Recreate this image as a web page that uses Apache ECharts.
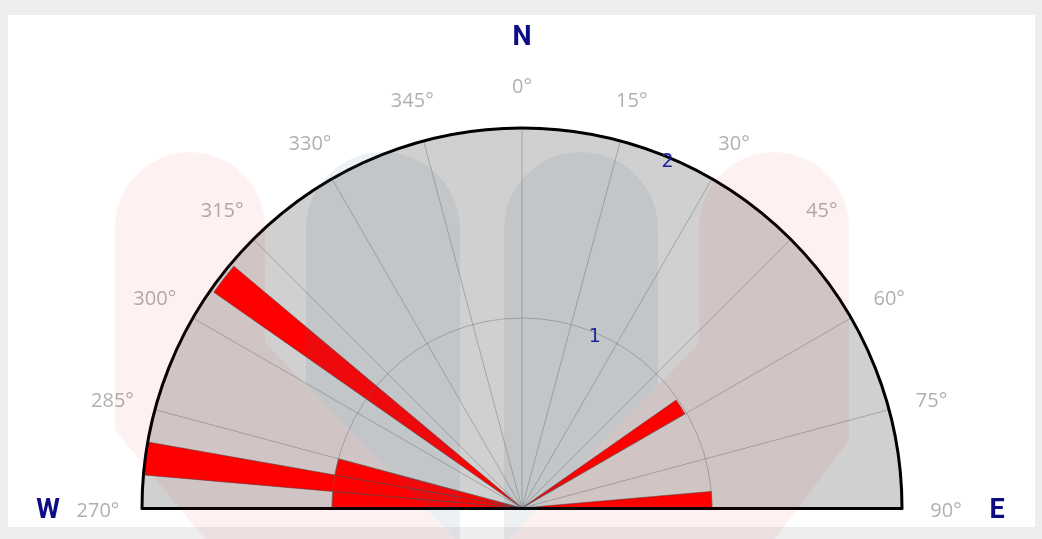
<!DOCTYPE html>
<html>
<head>
<meta charset="utf-8">
<style>
html,body{margin:0;padding:0;background:#eeeeee;width:1042px;height:539px;overflow:hidden;}
#panel{position:absolute;left:8px;top:15px;width:1027px;height:512px;background:#ffffff;}
#chart{position:absolute;left:0;top:0;width:1042px;height:539px;}
</style>
<script src="https://cdn.jsdelivr.net/npm/echarts@6/dist/echarts.min.js"></script>
</head>
<body>
<div id="panel"></div>
<div id="chart"></div>
<script>
// ---- data ----
// bar centres (compass degrees) and their radial values
const binCompass = [272.5, 277.5, 282.5, 307.5, 57.5, 87.5];
const binValues  = [1.0,   2.0,   1.0,   1.98,  0.99, 1.0];
// angle tick range (-90 = 270°, 0 = 0°, 90 = 90°)
const angleMin = -90, angleMax = 90, angleStep = 15;
const radiusMax = 2, radiusStep = 1;
const radiusLabels = [1, 2];
const compassText = ['N', 'W', 'E'];

// convert compass to axis value (-90..90)
const binAngles = binCompass.map(a => a > 180 ? a - 360 : a);

const CENTER = [522, 508], R = 380;

function pill(cx, cy, r, tail) {
  const pts = [];
  for (let i = 0; i <= 24; i++) {
    const t = Math.PI - Math.PI * i / 24;
    pts.push([cx + r * Math.cos(t), cy - r * Math.sin(t)]);
  }
  return pts.concat(tail);
}

const chart = echarts.init(document.getElementById('chart'), null, {renderer: 'canvas'});
const hiddenAngle = (idx, start) => ({polarIndex: idx, type: 'value', startAngle: start, show: false});
const baseRadius = (idx, z) => ({
  polarIndex: idx, type: 'value', min: 0, max: radiusMax, interval: radiusStep, z: z,
  axisLine: {show: false}, axisTick: {show: false}, axisLabel: {show: false},
  splitLine: {show: false}, splitArea: {show: false}
});

const option = {
  animation: false,
  polar: [0, 1, 2, 3].map(() => ({center: CENTER, radius: [0, R]})),
  angleAxis: [
    {
      polarIndex: 0, type: 'value', min: angleMin, max: angleMax, interval: angleStep,
      startAngle: 180, endAngle: 0, clockwise: true, z: 0,
      axisLine: {show: false}, axisTick: {show: false}, axisLabel: {show: false},
      splitLine: {show: false}, splitArea: {show: true, areaStyle: {color: ['#d0d0d0']}}
    },
    {
      polarIndex: 1, type: 'value', min: angleMin, max: angleMax, interval: angleStep,
      startAngle: 180, endAngle: 0, clockwise: true, z: 5,
      axisLine: {show: true, lineStyle: {color: '#000000', width: 3}},
      axisTick: {show: false},
      axisLabel: {
        show: true, margin: 44, padding: [-7, -22, -13, -22], lineHeight: 20,
        color: '#b0b0b0', fontFamily: 'Open Sans', fontSize: 20,
        formatter: v => '{a|' + ((v + 360) % 360) + '°}',
        rich: {a: {width: 44, align: 'center', lineHeight: 20, color: '#b0b0b0', fontFamily: 'Open Sans', fontSize: 20}}
      },
      splitLine: {show: true, lineStyle: {color: 'rgba(110,110,110,0.45)', width: 1}},
      splitArea: {show: false}
    },
    hiddenAngle(2, 0),
    hiddenAngle(3, 67.5)
  ],
  radiusAxis: [
    baseRadius(0, 0),
    Object.assign(baseRadius(1, 5), {
      axisLine: {show: true, lineStyle: {color: '#000000', width: 3}},
      splitLine: {show: true, lineStyle: {color: 'rgba(110,110,110,0.45)', width: 1}}
    }),
    Object.assign(baseRadius(2, 5), {
      axisLine: {show: true, lineStyle: {color: '#000000', width: 3}}
    }),
    Object.assign(baseRadius(3, 6), {
      axisLabel: {
        show: true, margin: 0, align: 'center', verticalAlign: 'top', lineHeight: 10,
        color: '#1c1c9c', fontFamily: 'DejaVu Sans', fontSize: 19,
        formatter: v => radiusLabels.indexOf(v) >= 0 ? String(v) : ''
      }
    })
  ],
  series: [{
    type: 'bar', coordinateSystem: 'polar', polarIndex: 0, barWidth: 5, z: 2,
    data: binAngles.map((a, i) => [binValues[i], a]),
    itemStyle: {color: '#ff0000', borderColor: 'rgba(70,70,70,0.55)', borderWidth: 1}
  }],
  graphic: [
    // page background below the base line (hides the lower half of the polar fill)
    {type: 'rect', z: 1, silent: true, shape: {x: 8, y: 509.5, width: 1027, height: 17.5}, style: {fill: '#ffffff'}},
    {type: 'rect', z: 1, silent: true, shape: {x: 0, y: 527, width: 1042, height: 12}, style: {fill: '#eeeeee'}},
    {type: 'text', z: 50, style: {text: compassText[0], x: 522, y: 38, fill: '#0c0c85', font: 'bold 27px Roboto', align: 'center', verticalAlign: 'middle'}},
    {type: 'text', z: 50, style: {text: compassText[1], x: 48, y: 511, fill: '#0c0c85', font: 'bold 27px Roboto', align: 'center', verticalAlign: 'middle'}},
    {type: 'text', z: 50, style: {text: compassText[2], x: 997, y: 511, fill: '#0c0c85', font: 'bold 27px Roboto', align: 'center', verticalAlign: 'middle'}},
    // faint watermark logo over the whole picture
    {type: 'polygon', z: 100, silent: true, shape: {points: pill(190, 227, 75, [[265, 343], [455, 539], [205, 539], [115, 430]])}, style: {fill: 'rgba(235,0,0,0.055)'}},
    {type: 'polygon', z: 100, silent: true, shape: {points: pill(774, 227, 75, [[849, 440], [775, 539], [509, 539], [699, 343]])}, style: {fill: 'rgba(235,0,0,0.055)'}},
    {type: 'polygon', z: 100, silent: true, shape: {points: pill(383, 229, 77, [[460, 539], [455, 539], [306, 385]])}, style: {fill: 'rgba(60,100,130,0.09)'}},
    {type: 'polygon', z: 100, silent: true, shape: {points: pill(581, 229, 77, [[658, 385], [509, 539], [504, 539]])}, style: {fill: 'rgba(60,100,130,0.09)'}}
  ]
};
chart.setOption(option);
</script>
</body>
</html>
